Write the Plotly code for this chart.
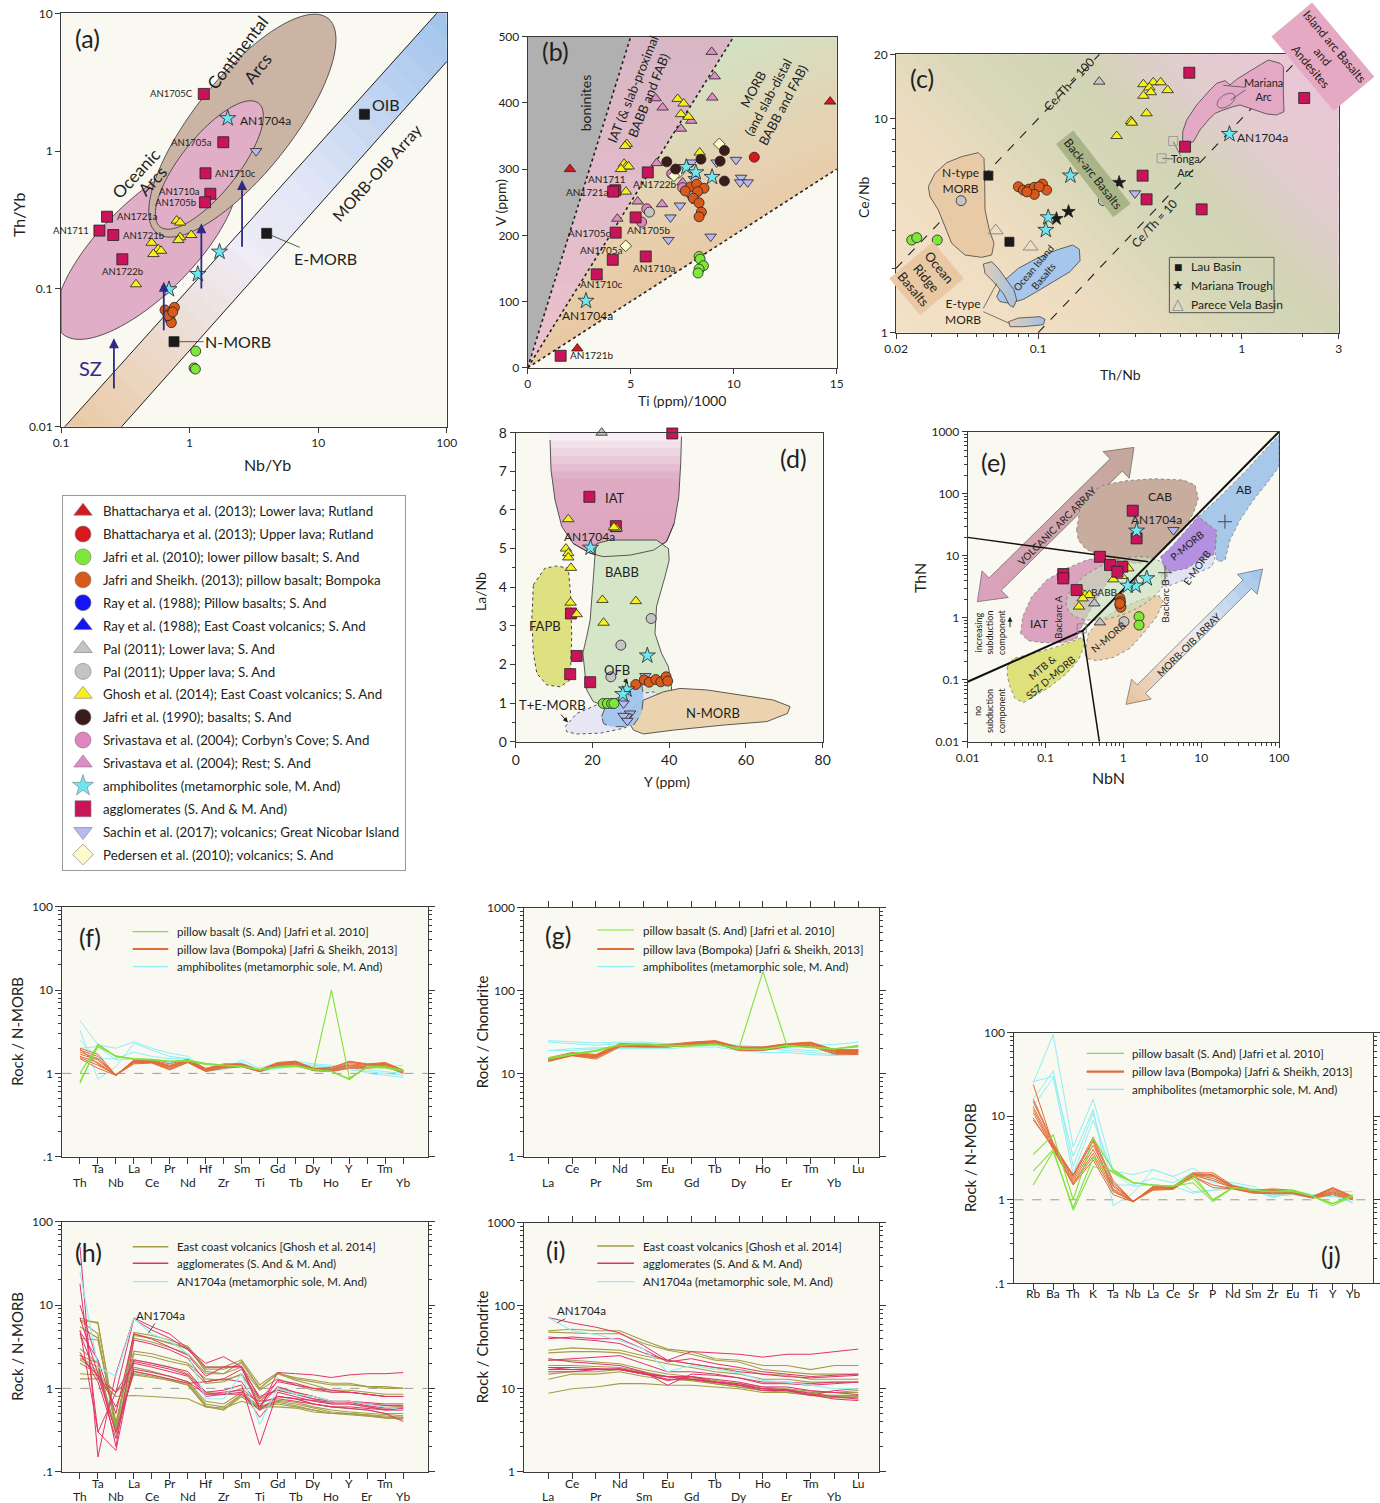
import math
import plotly.graph_objects as go

W, H = 1380, 1503
FONT = "Lato"
INK = "#231f20"
PANEL_BG = "#f9f8f1"

# =============================== DATA ===============================
LEG_KEYS = ["BHL", "BHU", "J10", "JS", "RAYP", "RAYE", "PALL", "PALU", "GHOSH", "J90",
            "SRIC", "SRIR", "AMPH", "AGG", "SACHIN", "PED"]
LEGEND_NAMES = [
    "Bhattacharya et al. (2013); Lower lava; Rutland",
    "Bhattacharya et al. (2013); Upper lava; Rutland",
    "Jafri et al. (2010); lower pillow basalt; S. And",
    "Jafri and Sheikh. (2013); pillow basalt; Bompoka",
    "Ray et al. (1988); Pillow basalts; S. And",
    "Ray et al. (1988); East Coast volcanics; S. And",
    "Pal (2011); Lower lava; S. And",
    "Pal (2011); Upper lava; S. And",
    "Ghosh et al. (2014); East Coast volcanics; S. And",
    "Jafri et al. (1990); basalts; S. And",
    "Srivastava et al. (2004); Corbyn\u2019s Cove; S. And",
    "Srivastava et al. (2004); Rest; S. And",
    "amphibolites (metamorphic sole, M. And)",
    "agglomerates (S. And & M. And)",
    "Sachin et al. (2017); volcanics; Great Nicobar Island",
    "Pedersen et al. (2010); volcanics; S. And",
]

# (a) Th/Yb vs Nb/Yb
A_AGG_NAME = ["AN1705C", "AN1705a", "AN1710c", "AN1710a", "AN1705b", "AN1721a", "AN1711", "AN1721b", "AN1722b"]
A_AGG_NBYB = [1.29, 1.83, 1.33, 1.45, 1.32, 0.228, 0.199, 0.255, 0.30]
A_AGG_THYB = [2.6, 1.16, 0.69, 0.49, 0.425, 0.334, 0.265, 0.246, 0.164]
A_GHOSH_NBYB = [0.794, 0.844, 1.03, 0.844, 0.818, 0.507, 0.571, 0.600, 0.523, 0.383]
A_GHOSH_THYB = [0.313, 0.303, 0.246, 0.237, 0.226, 0.216, 0.194, 0.189, 0.179, 0.108]
A_AMPH_NBYB = [1.98, 1.71, 1.16, 0.692]
A_AMPH_THYB = [1.73, 0.186, 0.128, 0.0993]
A_JS_NBYB = [0.644, 0.762, 0.697, 0.705, 0.722, 0.680, 0.740]
A_JS_THYB = [0.0703, 0.0735, 0.0657, 0.0601, 0.0569, 0.0640, 0.0680]
A_J10_NBYB = [1.116, 1.083, 1.11]
A_J10_THYB = [0.0354, 0.0267, 0.0262]
A_SACHIN_NBYB = [3.29]
A_SACHIN_THYB = [1.0]
A_REF_NAME = ["OIB", "E-MORB", "N-MORB"]
A_REF_NBYB = [22.9, 3.98, 0.757]
A_REF_THYB = [1.85, 0.253, 0.0414]
A_SZ_NBYB = [0.258, 0.63, 1.235, 2.56]
A_SZ_FROM = [0.0185, 0.0489, 0.098, 0.197]
A_SZ_TO = [0.0438, 0.1127, 0.299, 0.617]
A_ARRAY_UPPER = [(0.107, 0.01), (83.6, 10.0)]
A_ARRAY_LOWER = [(0.296, 0.01), (100.0, 4.46)]

# (b) V vs Ti/1000
B_AGG_NAME = ["AN1722b", "AN1711", "AN1721a", "AN1705b", "AN1705c", "AN1705a", "AN1710a", "AN1710c", "AN1721b"]
B_AGG_TI = [5.83, 4.25, 4.15, 5.24, 4.27, 4.13, 5.73, 3.35, 1.60]
B_AGG_V = [295, 268, 266, 227, 204, 163, 168, 141, 18]
B_BHL_TI = [2.05, 2.41, 14.68]
B_BHL_V = [300, 29, 402]
B_BHU_TI = [11.0]
B_BHU_V = [318]
B_J90_TI = [6.75, 7.18, 8.41, 9.34, 9.55, 9.55]
B_J90_V = [311, 300, 315, 312, 328, 282]
B_GHOSH_TI = [7.28, 7.57, 7.44, 7.80, 4.81, 4.73, 4.68, 4.79, 4.90, 4.53, 4.77, 8.35]
B_GHOSH_V = [406, 399, 383, 379, 338, 335, 308, 304, 304, 300, 266, 325]
B_SRIR_TI = [8.93, 9.08, 8.96, 6.21, 6.55, 7.44, 7.94, 6.26, 7.52, 5.34, 4.35, 6.52]
B_SRIR_V = [477, 440, 408, 407, 393, 361, 373, 309, 280, 251, 225, 247]
B_SRIC_TI = [5.78, 5.53, 7.52, 6.99]
B_SRIC_V = [240, 220, 272, 293]
B_PALU_TI = [5.91]
B_PALU_V = [235]
B_AMPH_TI = [7.70, 8.16, 8.95, 2.83]
B_AMPH_V = [303, 295, 288, 101]
B_SACHIN_TI = [7.96, 9.17, 10.11, 10.36, 10.31, 10.68, 7.99, 7.39, 6.93, 6.83, 8.88, 8.07]
B_SACHIN_V = [310, 310, 314, 287, 280, 280, 255, 245, 227, 193, 198, 285]
B_PED_TI = [9.30, 7.35, 7.10, 4.76]
B_PED_V = [338, 295, 290, 184]
B_JS_TI = [7.90, 8.20, 8.56, 8.25, 8.04, 8.32, 8.43, 8.32, 7.65]
B_JS_V = [273, 277, 271, 266, 256, 249, 235, 228, 267]
B_J10_TI = [8.32, 8.37, 8.53, 8.32, 8.27]
B_J10_V = [168, 164, 154, 149, 143]
B_TIV_RATIO = [10, 20, 50]

# (c) Ce/Nb vs Th/Nb
C_AGG_THNB = [0.553, 2.03, 0.527, 0.326, 0.341, 0.636]
C_AGG_CENB = [16.4, 12.5, 7.4, 5.42, 4.2, 3.77]
C_GHOSH_THNB = [0.329, 0.368, 0.40, 0.352, 0.358, 0.329, 0.433, 0.341, 0.286, 0.289, 0.243]
C_GHOSH_CENB = [14.5, 14.8, 14.8, 14.0, 13.3, 12.8, 13.6, 10.6, 9.76, 9.58, 8.3]
C_AMPH_THNB = [0.871, 0.144, 0.112, 0.109]
C_AMPH_CENB = [8.48, 5.42, 3.46, 3.02]
C_MT_THNB = [0.25, 0.141, 0.123]
C_MT_CENB = [5.03, 3.68, 3.41]
C_LAU_THNB = [0.0569, 0.0722]
C_LAU_CENB = [5.42, 2.66]
C_PV_THNB = [0.0618, 0.0918]
C_PV_CENB = [3.0, 2.52]
C_PALL_THNB = [0.1995]
C_PALL_CENB = [14.9]
C_PALU_THNB = [0.0418, 0.209]
C_PALU_CENB = [4.14, 4.14]
C_SACHIN_THNB = [0.299]
C_SACHIN_CENB = [4.48]
C_JS_THNB = [0.0799, 0.0845, 0.0901, 0.0957, 0.105, 0.110, 0.101, 0.0957, 0.0880]
C_JS_CENB = [4.81, 4.64, 4.69, 4.78, 4.95, 4.64, 4.81, 4.43, 4.55]
C_J10_THNB = [0.0239, 0.0253, 0.0319]
C_J10_CENB = [2.71, 2.78, 2.71]
C_TONGA_THNB = [0.461, 0.404]
C_TONGA_CENB = [7.87, 6.53]
C_CETH = [100, 10]

# (d) La/Nb vs Y
D_AGG_Y = [40.8, 19.2, 26.1, 14.4, 15.9, 14.2, 19.4]
D_AGG_LANB = [7.98, 6.34, 5.58, 3.32, 2.22, 1.75, 1.54]
D_GHOSH_Y = [13.7, 13.1, 13.7, 13.7, 14.4, 14.3, 15.9, 22.6, 31.3, 22.9, 26.3, 25.6]
D_GHOSH_LANB = [5.76, 5.0, 4.88, 4.77, 4.50, 3.60, 3.30, 3.67, 3.64, 3.08, 5.52, 5.55]
D_PALL_Y = [22.4]
D_PALL_LANB = [8.0]
D_PALU_Y = [35.3, 27.4, 24.8]
D_PALU_LANB = [3.19, 2.50, 1.68]
D_AMPH_Y = [19.5, 34.3, 28.9, 27.9]
D_AMPH_LANB = [5.02, 2.23, 1.35, 1.23]
D_JS_Y = [31.3, 33.5, 34.8, 36.5, 37.8, 39.2, 39.6]
D_JS_LANB = [1.48, 1.60, 1.54, 1.61, 1.55, 1.68, 1.57]
D_J10_Y = [22.8, 23.9, 25.0, 25.6]
D_J10_LANB = [0.99, 0.99, 0.99, 0.99]
D_SACHIN_Y = [33.8, 28.1, 29.8, 28.9, 28.1, 29.1]
D_SACHIN_LANB = [1.70, 0.99, 0.73, 0.65, 0.67, 0.54]

# (e) ThN vs NbN
E_AGG_NBN = [1.32, 1.48, 0.50, 0.674, 0.97, 0.838, 0.169, 0.169, 0.251]
E_AGG_THN = [53.2, 19.0, 9.6, 7.07, 6.65, 5.52, 5.06, 4.3, 2.79]
E_GHOSH_NBN = [0.292, 0.322, 0.366, 0.30, 0.269, 0.744, 0.953, 1.05, 1.16]
E_GHOSH_THN = [2.53, 2.32, 2.32, 2.05, 1.51, 4.15, 4.70, 6.9, 6.25]
E_PALL_NBN = [0.424, 0.50]
E_PALL_THN = [1.70, 0.84]
E_PALU_NBN = [1.02]
E_PALU_THN = [0.863]
E_AMPH_NBN = [1.48, 2.0, 1.44, 1.14]
E_AMPH_THN = [25.3, 4.31, 3.28, 3.28]
E_JS_NBN = [0.906, 0.92, 0.906, 0.93, 0.90]
E_JS_THN = [2.05, 1.81, 1.60, 1.47, 1.70]
E_J10_NBN = [1.59, 1.59]
E_J10_THN = [1.04, 0.76]
E_SACHIN_NBN = [4.4]
E_SACHIN_THN = [25.9]
E_REF_NBN = [20.2, 3.43]
E_REF_THN = [35.3, 5.32]
E_OPENSQ_NBN = [0.292]
E_OPENSQ_THN = [0.673]

# spider diagrams
CAT_NMORB = ["Th", "Ta", "Nb", "La", "Ce", "Pr", "Nd", "Hf", "Zr", "Sm", "Ti", "Gd", "Tb", "Dy", "Ho", "Y", "Er", "Tm", "Yb"]
CAT_REE = ["La", "Ce", "Pr", "Nd", "Sm", "Eu", "Gd", "Tb", "Dy", "Ho", "Er", "Tm", "Yb", "Lu"]
CAT_EXT = ["Rb", "Ba", "Th", "K", "Ta", "Nb", "La", "Ce", "Sr", "P", "Nd", "Sm", "Zr", "Eu", "Ti", "Y", "Yb"]

F_GREEN = [
    [0.76, 2.25, 1.60, 1.50, 1.46, 1.40, 1.42, 1.30, 1.26, 1.22, 1.10, 1.20, 1.25, 1.10, 1.06, 0.86, 1.20, 1.18, 1.08],
    [1.00, 2.20, 1.58, 1.48, 1.45, 1.38, 1.40, 1.28, 1.24, 1.20, 1.10, 1.18, 1.22, 1.10, 10.0, 0.88, 1.18, 1.16, 1.06],
    [0.80, 2.10, 1.62, 1.50, 1.47, 1.40, 1.44, 1.32, 1.25, 1.21, 1.12, 1.20, 1.24, 1.12, 1.05, 0.84, 1.22, 1.20, 1.10],
]
F_ORANGE = [
    [2.00, 1.70, 0.95, 1.45, 1.45, 1.30, 1.48, 1.15, 1.30, 1.30, 1.10, 1.35, 1.40, 1.15, 1.15, 1.40, 1.30, 1.35, 1.10],
    [1.90, 1.60, 0.95, 1.40, 1.42, 1.25, 1.45, 1.12, 1.28, 1.30, 1.08, 1.32, 1.38, 1.15, 1.12, 1.35, 1.28, 1.32, 1.08],
    [1.80, 1.50, 0.96, 1.40, 1.40, 1.22, 1.42, 1.10, 1.25, 1.28, 1.08, 1.30, 1.35, 1.12, 1.10, 1.30, 1.25, 1.30, 1.06],
    [1.70, 1.45, 0.95, 1.38, 1.38, 1.20, 1.40, 1.10, 1.22, 1.27, 1.07, 1.28, 1.32, 1.12, 1.10, 1.25, 1.22, 1.28, 1.05],
    [1.60, 1.35, 0.95, 1.35, 1.36, 1.15, 1.38, 1.08, 1.20, 1.25, 1.06, 1.26, 1.30, 1.10, 1.08, 1.22, 1.20, 1.25, 1.04],
    [1.55, 1.25, 0.97, 1.33, 1.35, 1.12, 1.36, 1.06, 1.18, 1.22, 1.05, 1.24, 1.28, 1.08, 1.06, 1.18, 1.18, 1.22, 1.02],
    [1.50, 1.15, 0.95, 1.30, 1.33, 1.10, 1.35, 1.05, 1.15, 1.20, 1.05, 1.22, 1.25, 1.08, 1.05, 1.15, 1.15, 1.20, 1.00],
    [1.95, 1.30, 0.94, 1.42, 1.40, 1.18, 1.44, 1.12, 1.25, 1.28, 1.09, 1.30, 1.36, 1.14, 1.18, 1.38, 1.26, 1.30, 1.08],
]
F_CYAN = [
    [4.3, 2.2, 2.0, 2.4, 2.0, 1.75, 1.6, 1.1, 1.1, 1.45, 1.15, 1.35, 1.4, 1.3, 1.25, 1.1, 1.05, 1.0, 0.95],
    [3.3, 0.85, 1.2, 2.3, 1.9, 1.6, 1.5, 1.05, 1.15, 1.35, 1.1, 1.3, 1.35, 1.2, 1.2, 1.2, 1.0, 0.95, 0.9],
    [2.5, 1.5, 1.5, 1.8, 1.6, 1.5, 1.5, 1.15, 1.2, 1.25, 1.1, 1.2, 1.3, 1.25, 1.2, 1.25, 1.2, 1.2, 1.25],
    [2.0, 2.1, 1.45, 1.5, 1.45, 1.35, 1.35, 1.1, 1.15, 1.2, 1.05, 1.15, 1.2, 1.15, 1.15, 1.15, 1.1, 1.05, 1.0],
]
G_GREEN = [
    [15.5, 17.5, 19.0, 22.5, 23.0, 22.0, 22.0, 23.0, 20.0, 19.5, 22.0, 21.0, 20.0, 21.5],
    [15.0, 17.0, 18.5, 22.0, 22.5, 21.5, 21.5, 22.5, 20.5, 170.0, 22.0, 20.5, 20.0, 21.0],
    [15.2, 17.2, 19.2, 22.2, 22.8, 22.0, 21.8, 22.8, 19.8, 19.8, 21.5, 20.8, 19.8, 22.0],
]
G_ORANGE = [
    [15.5, 18.0, 17.0, 23.0, 22.5, 22.5, 24.0, 25.0, 21.0, 21.0, 23.0, 24.0, 19.5, 19.5],
    [15.0, 17.5, 16.5, 22.5, 22.0, 22.0, 23.5, 24.5, 20.5, 20.5, 22.5, 23.5, 19.0, 19.0],
    [14.8, 17.0, 16.0, 22.0, 21.5, 21.5, 23.0, 24.0, 20.0, 20.0, 22.0, 23.0, 18.5, 18.5],
    [14.5, 16.8, 15.8, 21.8, 21.2, 21.2, 22.5, 23.5, 19.8, 19.5, 21.5, 22.5, 18.0, 18.0],
    [14.2, 16.5, 15.5, 21.5, 21.0, 21.0, 22.2, 23.2, 19.5, 19.2, 21.2, 22.0, 17.5, 17.5],
    [14.0, 16.5, 15.0, 21.0, 21.0, 21.0, 22.0, 23.0, 19.0, 19.0, 21.0, 21.5, 17.2, 17.0],
    [15.2, 17.8, 16.8, 22.8, 22.2, 22.0, 23.8, 24.8, 20.8, 20.8, 22.8, 23.8, 19.2, 19.3],
    [14.6, 17.2, 16.2, 22.2, 21.8, 21.8, 23.2, 24.2, 20.2, 20.2, 22.2, 23.2, 18.8, 18.8],
]
G_CYAN = [
    [25.0, 24.0, 23.5, 24.0, 24.0, 23.0, 23.0, 22.5, 21.0, 20.0, 19.0, 18.0, 17.0, 17.5],
    [24.0, 23.0, 22.0, 23.0, 23.0, 22.5, 23.0, 23.0, 22.0, 21.0, 21.0, 22.0, 22.5, 24.0],
    [19.0, 20.0, 20.5, 21.0, 21.0, 21.0, 22.0, 22.0, 20.0, 19.5, 20.0, 19.0, 18.5, 18.5],
    [19.0, 19.0, 20.0, 20.0, 20.0, 20.0, 21.0, 21.0, 19.0, 18.0, 18.0, 17.0, 16.5, 17.0],
]
H_OLIVE = [
    [7.0, 6.0, 0.35, 4.7, 4.3, 3.8, 3.2, 1.8, 1.8, 2.2, 1.1, 1.55, 1.3, 1.2, 1.1, 1.1, 1.05, 1.05, 1.0],
    [6.5, 4.5, 0.30, 4.5, 4.0, 3.5, 3.0, 1.7, 1.7, 2.0, 1.0, 1.5, 1.25, 1.1, 0.95, 0.95, 0.9, 0.85, 0.85],
    [5.5, 4.0, 0.35, 4.0, 3.6, 3.1, 2.6, 1.5, 1.5, 1.8, 0.95, 1.3, 1.1, 0.95, 0.9, 0.9, 0.85, 0.8, 0.8],
    [4.0, 3.8, 0.40, 2.8, 2.6, 2.3, 2.0, 1.3, 1.25, 1.45, 0.7, 1.0, 0.9, 0.8, 0.7, 0.7, 0.65, 0.62, 0.6],
    [3.0, 2.0, 0.30, 2.6, 2.4, 2.1, 1.9, 1.15, 1.2, 1.5, 0.75, 0.95, 0.85, 0.75, 0.65, 0.65, 0.6, 0.56, 0.55],
    [2.5, 2.0, 0.28, 2.2, 2.0, 1.8, 1.5, 0.9, 0.85, 1.0, 0.65, 0.8, 0.75, 0.65, 0.6, 0.58, 0.55, 0.5, 0.5],
    [2.3, 1.8, 0.30, 1.8, 1.6, 1.4, 1.2, 0.7, 0.65, 0.9, 0.6, 0.72, 0.68, 0.6, 0.55, 0.52, 0.5, 0.48, 0.47],
    [2.2, 1.6, 0.30, 1.6, 1.45, 1.3, 1.15, 0.65, 0.6, 0.85, 0.58, 0.7, 0.65, 0.58, 0.52, 0.5, 0.48, 0.45, 0.45],
    [2.0, 1.5, 0.32, 1.5, 1.4, 1.25, 1.1, 0.6, 0.55, 0.8, 0.55, 0.68, 0.62, 0.55, 0.5, 0.5, 0.47, 0.44, 0.43],
    [1.5, 1.45, 0.9, 1.45, 1.35, 1.25, 1.1, 0.62, 0.55, 0.85, 0.6, 0.65, 0.6, 0.55, 0.5, 0.5, 0.48, 0.47, 0.45],
    [1.3, 1.3, 0.8, 0.82, 0.8, 0.78, 0.75, 0.6, 0.58, 0.7, 0.6, 0.6, 0.58, 0.52, 0.5, 0.48, 0.46, 0.44, 0.43],
    [6.5, 6.2, 0.35, 4.3, 4.0, 3.5, 3.1, 1.6, 1.5, 2.1, 1.0, 1.5, 1.35, 1.25, 1.15, 1.15, 1.05, 1.0, 1.0],
]
H_PINK = [
    [50.0, 0.15, 1.5, 7.0, 5.5, 4.5, 3.0, 2.0, 2.4, 1.8, 0.55, 1.55, 1.5, 1.45, 1.35, 1.45, 1.5, 1.5, 1.55],
    [18.0, 0.3, 0.9, 6.8, 5.0, 4.0, 2.9, 1.8, 1.8, 1.8, 0.6, 1.25, 1.15, 1.0, 0.95, 0.9, 0.85, 0.8, 0.8],
    [10.0, 2.0, 0.2, 3.8, 3.4, 2.9, 2.3, 1.2, 1.3, 1.7, 0.8, 0.95, 0.85, 0.75, 0.7, 0.7, 0.65, 0.62, 0.62],
    [7.0, 1.5, 0.6, 2.2, 2.0, 1.8, 1.6, 0.9, 0.95, 1.1, 0.21, 0.9, 0.8, 0.7, 0.65, 0.65, 0.6, 0.55, 0.55],
    [5.0, 0.3, 0.18, 2.1, 1.9, 1.7, 1.45, 0.85, 0.9, 0.95, 0.45, 0.8, 0.75, 0.65, 0.6, 0.58, 0.55, 0.5, 0.4],
    [4.5, 1.3, 0.9, 2.0, 1.8, 1.6, 1.4, 0.8, 0.85, 0.9, 0.7, 0.75, 0.7, 0.65, 0.6, 0.6, 0.58, 0.55, 0.58],
    [2.7, 1.2, 0.25, 1.7, 1.55, 1.4, 1.2, 0.85, 0.85, 0.85, 0.55, 0.8, 0.75, 0.72, 0.68, 0.7, 0.68, 0.65, 0.65],
    [2.5, 1.4, 0.3, 1.6, 1.45, 1.3, 1.15, 1.2, 1.3, 1.2, 0.6, 1.05, 0.9, 0.8, 0.7, 0.68, 0.62, 0.58, 0.58],
    [4.8, 2.2, 0.5, 4.5, 3.9, 3.1, 2.5, 1.4, 1.8, 1.85, 0.75, 1.2, 1.1, 1.0, 0.9, 0.9, 0.85, 0.8, 0.8],
]
H_CYAN = [[25.0, 1.8, 1.4, 6.9, 4.5, 3.7, 2.6, 0.75, 0.75, 1.5, 0.37, 1.0, 0.85, 0.8, 0.7, 0.7, 0.65, 0.6, 0.55]]
I_OLIVE = [
    [50, 52, 50, 50, 38, 30, 28, 23, 22, 19, 19, 17, 19, 19],
    [48, 47, 46, 46, 35, 29, 26, 22, 21, 17, 16, 15, 15, 15],
    [29, 31, 30, 29, 25, 22, 20, 18, 17, 15, 14.5, 13, 13, 13],
    [27, 28, 28, 27, 23, 20, 18, 16, 15, 13, 13, 12, 12, 12],
    [19, 19, 18.5, 18, 16, 14, 13.5, 12, 11, 10, 9.8, 9, 9, 9],
    [17, 17, 17, 17, 15, 14, 13, 11.5, 10.5, 9.5, 9.3, 8.5, 8.3, 8.3],
    [15, 16, 16, 17, 15, 14, 13, 12, 11, 10, 9.5, 8.5, 8, 8],
    [13, 15, 15, 16, 14, 13, 12.5, 11.5, 10.5, 9.5, 9, 8.3, 7.8, 7.8],
    [8.8, 10, 10.5, 11.5, 11.5, 11, 11, 10.5, 10, 9, 9, 8.5, 8, 8],
    [22, 22, 21, 20, 17, 15, 14, 12.5, 11.5, 10.5, 10, 9.3, 9, 9.5],
]
I_PINK = [
    [72, 62, 55, 47, 33, 22, 28, 27, 26, 24, 26, 26, 28, 30],
    [42, 40, 38, 35, 27, 22, 20, 18, 16, 15, 14, 13.5, 14, 14.5],
    [40, 42, 40, 40, 30, 21, 23, 20, 18, 16, 15, 14, 14.5, 15],
    [23, 21, 20, 19, 16, 11, 15, 14.5, 13.5, 12, 12, 11.5, 12, 12],
    [22, 23, 24, 25, 20, 16, 16, 15, 13.5, 11.5, 11.5, 11, 11.5, 12],
    [18, 17, 17, 17, 15, 14, 13, 12, 11, 9.5, 9.5, 8.5, 7.5, 7.2],
    [18, 18, 17.5, 17, 15, 13, 13, 12, 11, 10, 9.7, 8.8, 8, 7.5],
    [17, 17, 17, 17, 15.5, 14, 14, 13, 12, 10.5, 10.5, 9.5, 9, 8.5],
    [16, 16, 17, 17.5, 15.5, 12.5, 14, 12, 11.5, 10, 9.7, 8.3, 9.5, 10],
]
I_CYAN = [[72, 50, 45, 38, 30, 16, 19, 17, 15.5, 12.5, 12, 11, 10, 10]]
J_GREEN = [
    [3.5, 6.0, 1.0, 5.5, 2.3, 1.6, 1.5, 1.45, 1.8, 1.0, 1.4, 1.3, 1.25, 1.3, 1.1, 0.9, 1.1],
    [2.2, 4.0, 0.75, 2.5, 2.2, 1.6, 1.5, 1.45, 1.6, 0.95, 1.4, 1.3, 1.25, 1.25, 1.1, 0.85, 1.1],
    [1.5, 3.8, 0.8, 3.2, 2.1, 1.6, 1.5, 1.45, 2.0, 1.0, 1.4, 1.3, 1.25, 1.3, 1.1, 0.9, 1.15],
]
J_ORANGE = [
    [24, 4.5, 2.0, 5.6, 1.70, 0.95, 1.45, 1.45, 2.10, 2.10, 1.48, 1.30, 1.35, 1.30, 1.10, 1.40, 1.10],
    [16, 4.8, 1.9, 5.2, 1.60, 0.95, 1.40, 1.42, 2.05, 2.00, 1.45, 1.30, 1.30, 1.28, 1.08, 1.35, 1.08],
    [15, 4.6, 1.8, 4.5, 1.50, 0.96, 1.40, 1.40, 2.00, 1.90, 1.42, 1.28, 1.28, 1.25, 1.08, 1.30, 1.06],
    [13, 4.4, 1.7, 4.0, 1.45, 0.95, 1.38, 1.38, 2.00, 1.80, 1.40, 1.27, 1.25, 1.22, 1.07, 1.25, 1.05],
    [12, 4.2, 1.6, 3.6, 1.35, 0.95, 1.35, 1.36, 1.95, 1.70, 1.38, 1.25, 1.22, 1.20, 1.06, 1.22, 1.04],
    [11, 4.0, 1.55, 3.3, 1.25, 0.97, 1.33, 1.35, 1.90, 1.50, 1.36, 1.22, 1.20, 1.20, 1.05, 1.18, 1.02],
    [9.5, 4.1, 1.5, 3.0, 1.15, 0.95, 1.30, 1.33, 1.90, 1.40, 1.35, 1.20, 1.18, 1.18, 1.05, 1.15, 1.00],
    [9.0, 4.3, 1.95, 5.0, 1.30, 0.94, 1.42, 1.40, 2.05, 1.95, 1.44, 1.28, 1.32, 1.26, 1.09, 1.38, 1.08],
]
J_CYAN = [
    [25, 95, 4.3, 16, 2.2, 2.0, 2.3, 1.9, 2.4, 1.7, 1.6, 1.45, 1.1, 1.3, 1.15, 1.1, 0.95],
    [26, 30, 3.3, 12, 0.85, 1.2, 2.3, 1.9, 1.25, 1.3, 1.5, 1.35, 1.05, 1.25, 1.1, 1.2, 0.9],
    [16, 35, 2.5, 11, 1.5, 1.5, 1.8, 1.6, 2.1, 1.6, 1.5, 1.3, 1.15, 1.2, 1.1, 1.25, 1.25],
    [13, 29, 2.0, 9, 2.1, 1.45, 1.5, 1.45, 1.2, 1.3, 1.35, 1.25, 1.1, 1.15, 1.05, 1.1, 1.0],
]
LEG_FJ = ["pillow basalt (S. And) [Jafri et al. 2010]", "pillow lava (Bompoka) [Jafri & Sheikh, 2013]",
          "amphibolites (metamorphic sole, M. And)"]
LEG_HI = ["East coast volcanics [Ghosh et al. 2014]", "agglomerates (S. And & M. And)",
          "AN1704a (metamorphic sole, M. And)"]

# =============================== STYLE ===============================
SYM = {
    "BHL": ("triangle-up", "#d7191f"), "BHU": ("circle", "#d7191f"), "J10": ("circle", "#7ee83a"),
    "JS": ("circle", "#d9591b"), "RAYP": ("circle", "#1414f5"), "RAYE": ("triangle-up", "#1414f5"),
    "PALL": ("triangle-up", "#c4c4c4"), "PALU": ("circle", "#c4c4c4"), "GHOSH": ("triangle-up", "#f6f01c"),
    "J90": ("circle", "#3b1c1c"), "SRIC": ("circle", "#e184c0"), "SRIR": ("triangle-up", "#de8dc6"),
    "AMPH": ("star", "#6fe6f0"), "AGG": ("square", "#c9145a"), "SACHIN": ("triangle-down", "#b9b9f2"),
    "PED": ("diamond", "#fdfbcb"),
}
MSIZE = {"triangle-up": 10, "circle": 10, "star": 12, "square": 11, "triangle-down": 10, "diamond": 9}
C_GREEN, C_ORANGE, C_CYAN = "#80e03c", "#e06c3a", "#8eeef6"
C_OLIVE, C_PINK = "#a39d48", "#e0336c"

BOX = {  # plot frames in page pixels (left, top, right, bottom)
    "a": (61.0, 13.3, 446.7, 426.7), "b": (527.7, 36.7, 836.7, 367.7), "c": (896.0, 54.3, 1338.7, 332.7),
    "d": (515.7, 432.7, 822.7, 741.7), "e": (967.7, 431.7, 1279.0, 741.7), "f": (62.3, 906.7, 427.7, 1156.7),
    "g": (524.3, 907.7, 879.3, 1156.7), "h": (62.3, 1221.7, 427.7, 1471.7), "i": (524.3, 1222.7, 879.3, 1471.7),
    "j": (1014.3, 1032.7, 1372.7, 1283.3),
}
AXID = {"a": ("x", "y"), "b": ("x2", "y2"), "c": ("x3", "y3"), "d": ("x4", "y4"), "e": ("x5", "y5"),
        "f": ("x6", "y6"), "g": ("x7", "y7"), "h": ("x8", "y8"), "i": ("x9", "y9"), "j": ("x10", "y10")}
ZOFF = {"a": (0, 0), "b": (490, 20), "c": (850, 10), "d": (490, 420), "e": (900, 420)}
# template outlines are digitised at 3x on these frames (left, top, right, bottom)
FR = {"a": (183, 40, 1340, 1280), "b": (113, 50, 1040, 1043), "c": (138, 133, 1466, 968),
      "d": (77, 38, 998, 965), "e": (203, 35, 1137, 965)}

fig = go.Figure()
shapes, anns = [], []


def lk(axid):
    return axid[0] + "axis" + axid[1:]


def dom_of(p):
    L, T, R, B = BOX[p]
    return [L / W, R / W], [1 - B / H, 1 - T / H]


def fr2dom(p, pts):
    L, T, R, B = FR[p]
    return [((x - L) / (R - L), (B - y) / (B - T)) for x, y in pts]


def clip_half(poly, a, b, c):
    out = []
    n = len(poly)
    for i in range(n):
        P, Q = poly[i], poly[(i + 1) % n]
        fp = a * P[0] + b * P[1] - c
        fq = a * Q[0] + b * Q[1] - c
        if fp >= 0:
            out.append(P)
        if (fp >= 0) != (fq >= 0):
            t = fp / (fp - fq)
            out.append((P[0] + t * (Q[0] - P[0]), P[1] + t * (Q[1] - P[1])))
    return out


def clip_unit(poly):
    for a, b, c in [(1, 0, 0), (-1, 0, -1), (0, 1, 0), (0, -1, -1)]:
        poly = clip_half(poly, a, b, c)
        if not poly:
            break
    return poly


def path_str(poly, closed=True):
    s = "M" + "L".join("%.4f,%.4f" % (u, v) for u, v in poly)
    return s + ("Z" if closed else "")


def dshape(p, poly, fill=None, lc=None, lw=1.0, dash="solid", closed=True, clip=True, layer="below"):
    if clip and closed:
        poly = clip_unit(poly)
    if len(poly) < 2:
        return
    xid, yid = AXID[p]
    shapes.append(dict(type="path", xref=xid + " domain", yref=yid + " domain", path=path_str(poly, closed),
                       fillcolor=fill if (fill and closed) else "rgba(0,0,0,0)",
                       line=dict(color=lc if lc else "rgba(0,0,0,0)", width=lw if lc else 0, dash=dash),
                       layer=layer))


def lerp_col(stops, t):
    t = min(max(t, 0.0), 1.0)
    for (t0, c0), (t1, c1) in zip(stops, stops[1:]):
        if t <= t1:
            f = 0 if t1 == t0 else (t - t0) / (t1 - t0)
            return "rgb(%d,%d,%d)" % tuple(round(c0[k] + f * (c1[k] - c0[k])) for k in range(3))
    return "rgb(%d,%d,%d)" % stops[-1][1]


def grad_fill(p, poly, dir_px, stops, n=24):
    poly = clip_unit(poly)
    L, T, R, B = BOX[p]
    a, b = dir_px[0] * (R - L), dir_px[1] * (B - T)
    s = [a * u + b * v for u, v in poly]
    s0, s1 = min(s), max(s)
    st = (s1 - s0) / n
    for i in range(n):
        lo = s0 + i * st - 1e-6
        hi = s0 + (i + 1) * st + (0.6 * st if i < n - 1 else 1.0)
        q = clip_half(poly, a, b, lo)
        if q:
            q = clip_half(q, -a, -b, -hi)
        if len(q) >= 3:
            dshape(p, q, fill=lerp_col(stops, (i + 0.5) / n), clip=False)


def ellipse(cx, cy, a, b, ang, n=90):
    t = math.radians(ang)
    ux, uy = math.cos(t), -math.sin(t)
    nx, ny = math.sin(t), math.cos(t)
    out = []
    for k in range(n):
        ph = 2 * math.pi * k / n
        out.append((cx + a * math.cos(ph) * ux + b * math.sin(ph) * nx,
                    cy + a * math.cos(ph) * uy + b * math.sin(ph) * ny))
    return out


def fat_arrow(p0, p1, w, hw, hl):
    dx, dy = p1[0] - p0[0], p1[1] - p0[1]
    L = math.hypot(dx, dy)
    ux, uy = dx / L, dy / L
    nx, ny = -uy, ux

    def P(base, along, side):
        return (base[0] + ux * along + nx * side, base[1] + uy * along + ny * side)
    return [p0, P(p0, hl, hw), P(p0, hl, w), P(p1, -hl, w), P(p1, -hl, hw), p1,
            P(p1, -hl, -hw), P(p1, -hl, -w), P(p0, hl, -w), P(p0, hl, -hw)]


def ptext(x, y, text, size=12, angle=0, color=INK, xanchor="center", yanchor="middle", bg=None, align="center"):
    d = dict(xref="paper", yref="paper", x=x / W, y=1 - y / H, text=text, showarrow=False, textangle=angle,
             font=dict(size=size, color=color, family=FONT), xanchor=xanchor, yanchor=yanchor, align=align)
    if bg:
        d.update(bgcolor=bg, borderpad=3)
    anns.append(d)


def ztext(p, zx, zy, text, **kw):
    ox, oy = ZOFF[p]
    ptext(zx / 3 + ox, zy / 3 + oy, text, **kw)


def dlabel(p, x, y, text, logx=False, logy=False, xanchor="center", yanchor="middle", xshift=0, yshift=0, size=9.5):
    xid, yid = AXID[p]
    anns.append(dict(xref=xid, yref=yid, x=math.log10(x) if logx else x, y=math.log10(y) if logy else y,
                     text=text, showarrow=False, xanchor=xanchor, yanchor=yanchor, xshift=xshift, yshift=yshift,
                     font=dict(size=size, color=INK, family=FONT)))


def pts(p, key, xs, ys, size=None):
    xid, yid = AXID[p]
    sym, col = SYM[key]
    fig.add_trace(go.Scatter(x=xs, y=ys, mode="markers", xaxis=xid, yaxis=yid, showlegend=False,
                             hoverinfo="skip", cliponaxis=False,
                             marker=dict(symbol=sym, color=col, size=size or MSIZE[sym],
                                         line=dict(color="#222", width=0.8))))


def raw_pts(p, xs, ys, symbol, color, size, lc="#222", lw=0.8):
    xid, yid = AXID[p]
    fig.add_trace(go.Scatter(x=xs, y=ys, mode="markers", xaxis=xid, yaxis=yid, showlegend=False,
                             hoverinfo="skip", cliponaxis=False,
                             marker=dict(symbol=symbol, color=color, size=size, line=dict(color=lc, width=lw))))


UNIT = [(0, 0), (1, 0), (1, 1), (0, 1)]
layout_axes = {}


def base_axis(**kw):
    d = dict(showline=True, linecolor="#3a3a3a", linewidth=1, mirror=True, ticks="outside", ticklen=5,
             tickwidth=1, tickcolor="#3a3a3a", showgrid=False, zeroline=False, fixedrange=True, automargin=False,
             tickfont=dict(size=12, color=INK, family=FONT))
    d.update(kw)
    return d


def set_axes(p, xkw, ykw):
    xid, yid = AXID[p]
    xd, yd = dom_of(p)
    layout_axes[lk(xid)] = base_axis(domain=xd, anchor=yid, **xkw)
    layout_axes[lk(yid)] = base_axis(domain=yd, anchor=xid, **ykw)


def minor_log(lo, hi):
    vals = []
    for e in range(lo, hi):
        for m in range(2, 10):
            vals.append(m * 10 ** e)
    return vals


# ============================ PANEL (a) ============================
set_axes("a", dict(type="log", range=[-1, 2], tickvals=[0.1, 1, 10, 100], ticktext=["0.1", "1", "10", "100"]),
         dict(type="log", range=[-2, 1], tickvals=[0.01, 0.1, 1, 10], ticktext=["0.01", "0.1", "1", "10"]))
dshape("a", UNIT, fill=PANEL_BG)


def a_dom(xy):
    return ((math.log10(xy[0]) + 1) / 3, (math.log10(xy[1]) + 2) / 3)


band = [a_dom(A_ARRAY_LOWER[0]), a_dom(A_ARRAY_UPPER[0]), a_dom(A_ARRAY_UPPER[1]), (1.0, 1.0),
        a_dom(A_ARRAY_LOWER[1])]
grad_fill("a", band, (1, 1), [(0, (233, 201, 162)), (0.45, (238, 236, 246)), (0.6, (226, 230, 246)),
                              (1, (160, 196, 236))], n=30)
dshape("a", [a_dom(q) for q in A_ARRAY_UPPER], lc="#222", lw=1, closed=False)
dshape("a", [a_dom(q) for q in A_ARRAY_LOWER], lc="#222", lw=1, closed=False)
dshape("a", fr2dom("a", ellipse(440, 745, 360, 140, 45)), fill="rgb(224,174,198)", lc="#333", lw=0.8)
dshape("a", fr2dom("a", ellipse(727, 377, 412, 145, 51.4)), fill="rgb(204,180,164)", lc="#333", lw=0.8)
dshape("a", fr2dom("a", ellipse(628, 495, 237, 85, 51.4)), fill="rgb(224,174,198)", lc="#333", lw=0.8)

pts("a", "JS", A_JS_NBYB, A_JS_THYB)
pts("a", "J10", A_J10_NBYB, A_J10_THYB)
pts("a", "GHOSH", A_GHOSH_NBYB, A_GHOSH_THYB)
pts("a", "SACHIN", A_SACHIN_NBYB, A_SACHIN_THYB)
pts("a", "AMPH", A_AMPH_NBYB, A_AMPH_THYB)
pts("a", "AGG", A_AGG_NBYB, A_AGG_THYB)
raw_pts("a", A_REF_NBYB, A_REF_THYB, "square", "#1a1a1a", 10)

A_LBL = {"AN1705C": ("right", -9, 0), "AN1705a": ("right", -9, 0), "AN1710c": ("left", 8, 0),
         "AN1710a": ("right", -8, 2), "AN1705b": ("right", -7, 0), "AN1721a": ("left", 8, 0),
         "AN1711": ("right", -8, 0), "AN1721b": ("left", 8, 0), "AN1722b": ("center", 0, -12)}
for nm, x, y in zip(A_AGG_NAME, A_AGG_NBYB, A_AGG_THYB):
    anc, xs, ys = A_LBL[nm]
    dlabel("a", x, y, nm, logx=True, logy=True, xanchor=anc, xshift=xs, yshift=ys, size=9.5)
dlabel("a", A_AMPH_NBYB[0], A_AMPH_THYB[0], "AN1704a", logx=True, logy=True, xanchor="left", xshift=10, yshift=-2,
       size=12)
for x0, y0, y1 in zip(A_SZ_NBYB, A_SZ_FROM, A_SZ_TO):
    anns.append(dict(xref="x", yref="y", axref="x", ayref="y", x=math.log10(x0), y=math.log10(y1),
                     ax=math.log10(x0), ay=math.log10(y0), text="", showarrow=True, arrowhead=2,
                     arrowsize=1.1, arrowwidth=1.8, arrowcolor="#2e2a85"))
ref_off = {"OIB": None, "E-MORB": (59, 25), "N-MORB": (64, 0)}
for nm, x, y in zip(A_REF_NAME, A_REF_NBYB, A_REF_THYB):
    if ref_off[nm] is None:
        dlabel("a", x, y, nm, logx=True, logy=True, xshift=22, yshift=10, size=16)
    else:
        ax_, ay_ = ref_off[nm]
        anns.append(dict(xref="x", yref="y", x=math.log10(x), y=math.log10(y), ax=ax_, ay=ay_, text=nm,
                         showarrow=True, arrowhead=0, arrowwidth=0.8, arrowcolor="#333", standoff=5,
                         font=dict(size=16, color=INK, family=FONT)))
ztext("a", 262, 115, "(a)", size=25)
ztext("a", 712, 158, "Continental", size=17, angle=-52)
ztext("a", 772, 205, "Arcs", size=17, angle=-52)
ztext("a", 408, 522, "Oceanic", size=17, angle=-47)
ztext("a", 458, 542, "Arcs", size=17, angle=-47)
ztext("a", 1130, 518, "MORB-OIB Array", size=16, angle=-48)
ztext("a", 272, 1105, "SZ", size=20, color="#2e2a85")
ptext(267, 465, "Nb/Yb", size=16)
ptext(18, 215, "Th/Yb", size=16, angle=-90)

# ============================ PANEL (b) ============================
set_axes("b", dict(range=[0, 15], tickvals=[0, 5, 10, 15]), dict(range=[0, 500], dtick=100))


def tiv_end(r):
    k = 1000.0 / r
    x = 500.0 / k
    return (x, 500.0) if x <= 15 else (15.0, 15 * k)


ends = [(e[0] / 15, e[1] / 500) for e in (tiv_end(r) for r in B_TIV_RATIO)]
dshape("b", UNIT, fill=PANEL_BG)
dshape("b", [(0, 0), (0, 1), ends[0]], fill="rgb(176,176,176)")
grad_fill("b", [(0, 0), ends[0], ends[1]], (0, 1), [(0, (236, 194, 206)), (1, (216, 182, 196))], n=12)
grad_fill("b", [(0, 0), ends[1], (1, 1), ends[2]], (-0.45, 1),
          [(0, (234, 200, 162)), (0.45, (230, 210, 178)), (1, (210, 226, 196))], n=24)
for e in ends:
    dshape("b", [(0, 0), e], lc="#222", lw=1.6, dash="dot", closed=False)

pts("b", "BHL", B_BHL_TI, B_BHL_V)
pts("b", "BHU", B_BHU_TI, B_BHU_V)
pts("b", "SRIR", B_SRIR_TI, B_SRIR_V)
pts("b", "GHOSH", B_GHOSH_TI, B_GHOSH_V)
pts("b", "SRIC", B_SRIC_TI, B_SRIC_V)
pts("b", "PALU", B_PALU_TI, B_PALU_V)
pts("b", "SACHIN", B_SACHIN_TI, B_SACHIN_V)
pts("b", "PED", B_PED_TI, B_PED_V)
pts("b", "J90", B_J90_TI, B_J90_V)
pts("b", "JS", B_JS_TI, B_JS_V)
pts("b", "J10", B_J10_TI, B_J10_V)
pts("b", "AMPH", B_AMPH_TI, B_AMPH_V)
pts("b", "AGG", B_AGG_TI, B_AGG_V)
B_LBL = {"AN1722b": (7, 12), "AN1711": (-8, -11), "AN1721a": (-26, 0), "AN1705b": (13, 13), "AN1705c": (-26, 0),
         "AN1705a": (-11, -10), "AN1710a": (9, 12), "AN1710c": (5, 10), "AN1721b": (31, -1)}
for nm, x, y in zip(B_AGG_NAME, B_AGG_TI, B_AGG_V):
    dx, dy = B_LBL[nm]
    dlabel("b", x, y, nm, xshift=dx, yshift=-dy, size=10)
dlabel("b", B_AMPH_TI[3], B_AMPH_V[3], "AN1704a", xshift=1, yshift=-15, size=12)
ztext("b", 195, 92, "(b)", size=25)
ztext("b", 285, 250, "boninites", size=14, angle=-90)
ztext("b", 452, 218, "IAT (& slab-proximal<br>BABB and FAB)", size=13, angle=-68)
ztext("b", 835, 232, "MORB<br>(and slab-distal<br>BABB and FAB)", size=13, angle=-62)
ptext(682, 401, "Ti (ppm)/1000", size=14)
ptext(500, 203, "V (ppm)", size=14, angle=-90)

# ============================ PANEL (c) ============================
C_LX = [math.log10(0.02), math.log10(3)]
C_LY = [0, math.log10(20)]
set_axes("c", dict(type="log", range=C_LX, tickvals=[0.02, 0.1, 1, 3], ticktext=["0.02", "0.1", "1", "3"],
                   minor=dict(ticks="outside", ticklen=3, tickcolor="#3a3a3a",
                              tickvals=[0.03, 0.04, 0.05, 0.06, 0.07, 0.08, 0.09, 0.2, 0.3, 0.4, 0.5, 0.6,
                                        0.7, 0.8, 0.9, 2])),
         dict(type="log", range=C_LY, tickvals=[1, 10, 20], ticktext=["1", "10", "20"],
              minor=dict(ticks="outside", ticklen=3, tickcolor="#3a3a3a", tickvals=[2, 3, 4, 5, 6, 7, 8, 9])))
grad_fill("c", UNIT, (1, 1), [(0, (243, 225, 199)), (0.3, (238, 221, 193)), (0.5, (213, 215, 184)),
                              (0.62, (210, 212, 182)), (0.78, (227, 204, 208)), (1, (234, 197, 216))], n=32)


def c_dom(x, y):
    return ((math.log10(x) - C_LX[0]) / (C_LX[1] - C_LX[0]), (math.log10(y) - C_LY[0]) / (C_LY[1] - C_LY[0]))


for k in C_CETH:
    x0 = max(0.02, 1.0 / k)
    x1 = min(3.0, 20.0 / k)
    dshape("c", [c_dom(x0, k * x0), c_dom(x1, k * x1)], lc="#222", lw=1.1, dash="dash", closed=False)
dshape("c", fr2dom("c", [(235, 530), (255, 490), (290, 458), (335, 440), (385, 428), (402, 445), (404, 520),
                         (405, 600), (418, 660), (432, 700), (425, 735), (395, 742), (345, 735), (305, 700),
                         (285, 650), (265, 600), (240, 560)]), fill="rgb(232,203,166)", lc="#444", lw=0.8)
dshape("c", fr2dom("c", [(440, 860), (462, 812), (505, 775), (560, 745), (620, 720), (668, 705), (688, 718),
                         (690, 752), (660, 785), (610, 815), (560, 845), (520, 868), (480, 880), (450, 875)]),
       fill="rgb(166,198,236)", lc="#444", lw=0.8)
for poly in ([(400, 762), (425, 755), (445, 775), (470, 810), (492, 840), (500, 870), (490, 892), (478, 885),
              (460, 850), (430, 815), (405, 790)],
             [(476, 935), (505, 924), (570, 920), (585, 928), (580, 944), (520, 950), (480, 950)]):
    grad_fill("c", fr2dom("c", poly), (1, 0), [(0, (226, 206, 182)), (1, (164, 192, 226))], n=8)
    dshape("c", fr2dom("c", poly), lc="#444", lw=0.8)
dshape("c", fr2dom("c", [(998, 395), (998, 365), (1010, 330), (1040, 285), (1080, 240), (1100, 220), (1125, 212),
                         (1140, 225), (1160, 208), (1205, 180), (1255, 150), (1290, 160), (1300, 170),
                         (1300, 250), (1302, 305), (1280, 315), (1250, 312), (1200, 295), (1170, 285),
                         (1150, 290), (1120, 300), (1095, 310), (1075, 330), (1050, 360), (1030, 395),
                         (1010, 402)]), fill="rgb(226,168,196)", lc="#444", lw=0.8)
dshape("c", fr2dom("c", ellipse(1128, 272, 30, 17, 35)), lc="#444", lw=0.7)
dshape("c", fr2dom("c", [(1186, 232), (1120, 226)]), lc="#444", lw=0.7, closed=False)
dshape("c", fr2dom("c", [(1186, 240), (1142, 270)]), lc="#444", lw=0.7, closed=False)
dshape("c", fr2dom("c", [(937, 445), (968, 447)]), lc="#444", lw=0.7, closed=False)
dshape("c", fr2dom("c", [(970, 395), (992, 438)]), lc="#444", lw=0.7, closed=False)
dshape("c", fr2dom("c", [(400, 895), (440, 820)]), lc="#444", lw=0.7, closed=False)
dshape("c", fr2dom("c", [(400, 905), (478, 940)]), lc="#444", lw=0.7, closed=False)
dshape("c", fr2dom("c", [(958, 742), (1272, 742), (1272, 908), (958, 908)]), fill="rgba(0,0,0,0)", lc="#555",
       lw=1)

raw_pts("c", C_TONGA_THNB, C_TONGA_CENB, "square-open", "#9a9a9a", 9, lc="#9a9a9a", lw=1)
raw_pts("c", C_PV_THNB, C_PV_CENB, "triangle-up-open", "#8a8a8a", 13, lc="#8a8a8a", lw=1)
raw_pts("c", C_LAU_THNB, C_LAU_CENB, "square", "#1a1a1a", 9)
raw_pts("c", C_MT_THNB, C_MT_CENB, "star", "#1a1a1a", 10)
pts("c", "PALL", C_PALL_THNB, C_PALL_CENB)
pts("c", "PALU", C_PALU_THNB, C_PALU_CENB)
pts("c", "JS", C_JS_THNB, C_JS_CENB)
pts("c", "J10", C_J10_THNB, C_J10_CENB)
pts("c", "SACHIN", C_SACHIN_THNB, C_SACHIN_CENB)
pts("c", "GHOSH", C_GHOSH_THNB, C_GHOSH_CENB)
pts("c", "AMPH", C_AMPH_THNB, C_AMPH_CENB)
pts("c", "AGG", C_AGG_THNB, C_AGG_CENB)
dlabel("c", C_AMPH_THNB[0], C_AMPH_CENB[0], "AN1704a", logx=True, logy=True, xanchor="left", xshift=6,
       yshift=-3, size=12)
ztext("c", 215, 205, "(c)", size=25)
ztext("c", 332, 510, "N-type<br>MORB", size=12)
ztext("c", 340, 905, "E-type<br>MORB", size=12)
ztext("c", 566, 785, "Ocean Island<br>Basalts", size=10, angle=-50)
ztext("c", 728, 492, "Back-arc Basalts", size=12, angle=52, bg="#a9b489")
ztext("c", 228, 805, "Ocean<br>Ridge<br>Basalts", size=13, angle=50, bg="#e8c9a3")
ztext("c", 1420, 140, "Island arc Basalts<br>and<br>Andesites", size=12, angle=50, bg="#e6a9c3")
ztext("c", 1240, 237, "Mariana<br>Arc", size=11)
ztext("c", 1005, 465, "Tonga<br>Arc", size=11)
ztext("c", 655, 222, "Ce/Th = 100", size=12, angle=-47)
ztext("c", 912, 640, "Ce/Th = 10", size=12, angle=-47)
ztext("c", 985, 770, "\u25a0", size=14, color="#1a1a1a")
ztext("c", 985, 826, "\u2605", size=13, color="#1a1a1a")
ztext("c", 985, 880, "\u25b3", size=15, color="#8a8a8a")
for zy, t in [(770, "Lau Basin"), (826, "Mariana Trough"), (882, "Parece Vela Basin")]:
    ztext("c", 1018, zy, t, size=12, xanchor="left")
ptext(1120, 375, "Th/Nb", size=14)
ptext(863, 197, "Ce/Nb", size=14, angle=-90)

# ============================ PANEL (d) ============================
set_axes("d", dict(range=[0, 80], tickvals=[0, 20, 40, 60, 80], tickfont=dict(size=14, color=INK, family=FONT)),
         dict(range=[0, 8], dtick=1, tickfont=dict(size=14, color=INK, family=FONT),
              minor=dict(ticks="outside", ticklen=3, dtick=0.5, tickcolor="#3a3a3a")))
dshape("d", UNIT, fill=PANEL_BG)


def d_dom(poly):
    return [(x / 80.0, y / 8.0) for x, y in poly]


IAT_D = [(8.9, 8.2), (8.95, 7.81), (9.2, 7.03), (10.25, 6.26), (12.0, 5.57), (15.0, 5.13), (19.4, 4.88),
         (22.8, 4.79), (29.8, 4.83), (35.9, 4.96), (39.3, 5.18), (41.3, 5.65), (42.5, 6.34), (43.0, 7.21),
         (43.2, 7.9), (43.2, 8.2)]
BABB_D = [(21.1, 5.13), (24.6, 5.22), (36.7, 5.22), (39.8, 5.0), (40.0, 4.70), (38.9, 4.27), (36.7, 3.50),
          (36.3, 2.80), (38.0, 2.29), (39.8, 1.94), (40.6, 1.42), (40.6, 0.99), (39.3, 0.91), (23.3, 0.92),
          (20.2, 1.04), (18.5, 1.34), (17.5, 2.29), (18.5, 2.72), (19.4, 3.15), (19.8, 3.67), (20.2, 4.19),
          (20.7, 4.88)]
FAPB_D = [(4.6, 4.06), (7.6, 4.49), (10.7, 4.55), (13.7, 4.49), (14.3, 3.84), (14.6, 2.72), (14.2, 1.60),
          (11.6, 1.42), (8.1, 1.47), (5.5, 1.77), (4.6, 2.29), (4.2, 3.15)]
NMORB_D = [(28.9, 0.73), (32.4, 1.04), (38.5, 1.29), (42.8, 1.38), (49.8, 1.34), (58.5, 1.21), (67.1, 1.08),
           (71.5, 0.91), (70.8, 0.73), (65.4, 0.52), (54.1, 0.43), (41.1, 0.30), (33.3, 0.20), (30.7, 0.30),
           (29.4, 0.52)]
OFB_D = [(22.4, 0.65), (23.7, 0.99), (27.2, 1.17), (30.7, 1.42), (32.8, 1.51), (33.3, 1.17), (32.8, 0.73),
         (30.7, 0.43), (28.1, 0.39), (24.6, 0.39), (22.9, 0.47)]
TE_D = [(12.9, 0.39), (15.9, 0.73), (22.0, 0.99), (29.8, 1.21), (35.9, 1.29), (38.0, 1.17), (36.8, 0.82),
        (33.3, 0.56), (28.1, 0.35), (22.0, 0.22), (15.9, 0.20), (13.3, 0.26)]
grad_fill("d", d_dom(IAT_D), (0, 1), [(0, (221, 166, 191)), (0.62, (222, 170, 194)), (1, (250, 244, 247))], n=16)
dshape("d", d_dom(IAT_D[1:-1]), lc="#333", lw=0.8, closed=False)
dshape("d", d_dom(BABB_D), fill="rgb(212,229,200)", lc="#333", lw=0.8)
dshape("d", d_dom(IAT_D[5:12]), lc="#333", lw=0.8, closed=False)
dshape("d", d_dom(FAPB_D), fill="rgb(223,224,128)", lc="#444", lw=1, dash="dot")
dshape("d", d_dom(TE_D), fill="rgb(230,230,244)", lc="#555", lw=1, dash="dot")
dshape("d", d_dom(NMORB_D), fill="rgb(236,211,176)", lc="#333", lw=0.8)
dshape("d", d_dom(OFB_D), fill="rgba(160,196,236,0.92)", lc="#333", lw=0.8, dash="dash")

pts("d", "PALL", D_PALL_Y, D_PALL_LANB)
pts("d", "PALU", D_PALU_Y, D_PALU_LANB)
pts("d", "SACHIN", D_SACHIN_Y, D_SACHIN_LANB)
pts("d", "J10", D_J10_Y, D_J10_LANB)
pts("d", "JS", D_JS_Y, D_JS_LANB)
pts("d", "AGG", D_AGG_Y, D_AGG_LANB)
pts("d", "GHOSH", D_GHOSH_Y, D_GHOSH_LANB)
pts("d", "AMPH", D_AMPH_Y, D_AMPH_LANB)
dlabel("d", 26.0, 6.3, "IAT", size=13)
dlabel("d", 27.6, 4.4, "BABB", size=13)
dlabel("d", 7.6, 3.0, "FAPB", size=13)
dlabel("d", 51.5, 0.75, "N-MORB", size=13)
dlabel("d", 72.3, 7.34, "(d)", size=25)
dlabel("d", 19.1, 5.32, "AN1704a", size=12)
anns.append(dict(xref="x4", yref="y4", axref="x4", ayref="y4", x=29.3, y=1.5, ax=26.3, ay=1.86, text="OFB",
                 showarrow=True, arrowhead=2, arrowsize=1, arrowwidth=1, arrowcolor="#222",
                 font=dict(size=13, color=INK, family=FONT)))
anns.append(dict(xref="x4", yref="y4", axref="x4", ayref="y4", x=13.6, y=0.5, ax=9.6, ay=0.95, text="T+E-MORB",
                 showarrow=True, arrowhead=2, arrowsize=1, arrowwidth=1, arrowcolor="#222",
                 font=dict(size=13, color=INK, family=FONT)))
ptext(667, 781, "Y (ppm)", size=14)
ptext(480, 592, "La/Nb", size=14, angle=-90)

# ============================ PANEL (e) ============================
set_axes("e", dict(type="log", range=[-2, 2], tickvals=[0.01, 0.1, 1, 10, 100],
                   ticktext=["0.01", "0.1", "1", "10", "100"],
                   minor=dict(ticks="outside", ticklen=3, tickcolor="#3a3a3a", tickvals=minor_log(-2, 2))),
         dict(type="log", range=[-2, 3], tickvals=[0.01, 0.1, 1, 10, 100, 1000],
              ticktext=["0.01", "0.1", "1", "10", "100", "1000"],
              minor=dict(ticks="outside", ticklen=3, tickcolor="#3a3a3a", tickvals=minor_log(-2, 3))))
dshape("e", UNIT, fill=PANEL_BG)
va = fat_arrow((232, 545), (702, 82), 26, 56, 75)
grad_fill("e", fr2dom("e", va), (470, 463), [(0, (220, 162, 190)), (1, (196, 168, 155))], n=16)
dshape("e", fr2dom("e", va), lc="#555", lw=0.6)
mo = fat_arrow((678, 853), (1088, 447), 18, 42, 65)
grad_fill("e", fr2dom("e", mo), (410, 406), [(0, (233, 196, 158)), (0.5, (238, 236, 240)), (1, (160, 196, 236))],
          n=16)
dshape("e", fr2dom("e", mo), lc="#555", lw=0.6)
E_FIELDS = [
    ([(362, 640), (368, 590), (395, 530), (440, 480), (500, 445), (560, 420), (600, 412), (630, 420), (640, 445),
      (620, 490), (590, 540), (565, 580), (545, 620), (530, 655), (490, 668), (430, 668), (385, 662)],
     "rgb(219,163,189)"),
    ([(530, 330), (540, 265), (565, 222), (610, 195), (680, 182), (760, 176), (850, 180), (885, 195), (895, 235),
      (880, 280), (850, 330), (800, 380), (760, 415), (720, 430), (660, 428), (600, 410), (555, 385), (535, 360)],
     "rgb(200,173,158)"),
    ([(555, 700), (565, 640), (600, 600), (660, 565), (720, 540), (775, 525), (790, 545), (770, 590), (730, 640),
      (690, 685), (640, 712), (590, 722), (560, 715)], "rgb(236,207,172)"),
    ([(322, 740), (340, 715), (400, 700), (470, 680), (548, 652), (552, 680), (535, 720), (500, 760), (450, 800),
      (400, 830), (370, 848), (345, 835), (330, 800), (322, 770)], "rgb(222,224,124)"),
    ([(785, 462), (830, 440), (880, 415), (930, 395), (945, 415), (935, 440), (890, 460), (840, 485), (800, 500),
      (785, 490)], "rgb(228,226,242)"),
    ([(782, 410), (810, 385), (850, 340), (895, 288), (950, 332), (948, 380), (940, 405), (900, 420), (860, 445),
      (810, 455), (790, 440)], "rgb(180,144,224)"),
    ([(895, 290), (960, 230), (1040, 150), (1090, 95), (1137, 45), (1137, 140), (1100, 190), (1060, 240),
      (1020, 300), (990, 360), (975, 420), (955, 425), (945, 405), (950, 332)], "rgb(168,200,234)"),
]
for poly, col in E_FIELDS:
    dshape("e", fr2dom("e", poly), fill=col, lc="#777", lw=0.8, dash="dot")
dshape("e", fr2dom("e", ellipse(650, 505, 160, 80, 22)), fill="rgba(196,222,186,0.6)", lc="#777", lw=0.8,
       dash="dot")
dshape("e", fr2dom("e", [(203, 785), (548, 632), (1137, 35)]), lc="#111", lw=2, closed=False)
dshape("e", fr2dom("e", [(203, 352), (745, 425)]), lc="#111", lw=1.5, closed=False)
dshape("e", fr2dom("e", [(548, 632), (598, 965)]), lc="#111", lw=1.5, closed=False)

raw_pts("e", E_REF_NBN, E_REF_THN, "cross-thin", "#444", 10, lc="#444", lw=1)
raw_pts("e", E_OPENSQ_NBN, E_OPENSQ_THN, "square-open", "#888", 9, lc="#888", lw=1)
pts("e", "PALL", E_PALL_NBN, E_PALL_THN)
pts("e", "PALU", E_PALU_NBN, E_PALU_THN)
pts("e", "JS", E_JS_NBN, E_JS_THN)
pts("e", "J10", E_J10_NBN, E_J10_THN)
pts("e", "SACHIN", E_SACHIN_NBN, E_SACHIN_THN)
pts("e", "GHOSH", E_GHOSH_NBN, E_GHOSH_THN)
pts("e", "AGG", E_AGG_NBN, E_AGG_THN)
pts("e", "AMPH", E_AMPH_NBN, E_AMPH_THN)
dlabel("e", E_AMPH_NBN[0], E_AMPH_THN[0], "AN1704a", logx=True, logy=True, xshift=20, yshift=11, size=12)
ztext("e", 280, 125, "(e)", size=25)
ztext("e", 780, 230, "CAB", size=12)
ztext("e", 1032, 210, "AB", size=12)
ztext("e", 862, 375, "P-MORB", size=10, angle=-40)
ztext("e", 892, 442, "E-MORB", size=10, angle=-55)
ztext("e", 418, 610, "IAT", size=12)
ztext("e", 472, 590, "Backarc A", size=10, angle=-90)
ztext("e", 612, 515, "BABB", size=10)
ztext("e", 795, 545, "Backarc B", size=10, angle=-90)
ztext("e", 625, 652, "N-MORB", size=10, angle=-40)
ztext("e", 438, 758, "MTB &<br>SSZ D-MORB", size=10, angle=-40)
ztext("e", 470, 318, "VOLCANIC ARC ARRAY", size=10, angle=-45)
ztext("e", 868, 672, "MORB-OIB ARRAY", size=10, angle=-45)
ztext("e", 268, 635, "increasing<br>subduction<br>component", size=9, angle=-90)
ztext("e", 268, 870, "no<br>subduction<br>component", size=9, angle=-90)
anns.append(dict(xref="paper", yref="paper", x=(900 + 330 / 3) / W, y=1 - (420 + 590 / 3) / H, ax=0, ay=12,
                 text="", showarrow=True, arrowhead=2, arrowsize=1, arrowwidth=1, arrowcolor="#222"))
ptext(1108, 777, "NbN", size=16)
ptext(920, 578, "ThN", size=16, angle=-90)

# ============================ SPIDER PANELS ============================
SP = {
    "f": dict(cats=CAT_NMORB, xr=[-0.985, 19.36], yr=[-1, 2], two=True, rows=(1168, 1182),
              title="Rock / N-MORB", tx=17, dashed=True),
    "g": dict(cats=CAT_REE, xr=[-1.006, 13.88], yr=[0, 3], two=True, rows=(1168.3, 1182.3),
              title="Rock / Chondrite", tx=482, dashed=False),
    "h": dict(cats=CAT_NMORB, xr=[-0.985, 19.36], yr=[-1, 2], two=True, rows=(1483.3, 1496.7),
              title="Rock / N-MORB", tx=17, dashed=True),
    "i": dict(cats=CAT_REE, xr=[-1.006, 13.88], yr=[0, 3], two=True, rows=(1483.3, 1496.7),
              title="Rock / Chondrite", tx=482, dashed=False),
    "j": dict(cats=CAT_EXT, xr=[-0.95, 17.0], yr=[-1, 2], two=False, rows=(1293.3, 1293.3),
              title="Rock / N-MORB", tx=970, dashed=True),
}
for p, cfg in SP.items():
    lo, hi = cfg["yr"]
    tv = [10 ** e for e in range(lo, hi + 1)]
    tt = [".1" if v == 0.1 else str(int(v)) for v in tv]
    set_axes(p, dict(type="category", categoryorder="array", categoryarray=cfg["cats"], range=cfg["xr"],
                     showticklabels=False, ticklen=6, mirror=("ticks" if p in ("g", "i") else True)),
             dict(type="log", range=[lo, hi], tickvals=tv, ticktext=tt, ticklen=6, mirror="ticks",
                  minor=dict(ticks="outside", ticklen=3, tickcolor="#3a3a3a", tickvals=minor_log(lo, hi))))
    dshape(p, UNIT, fill=PANEL_BG)
    if cfg["dashed"]:
        v1 = (0 - lo) / (hi - lo)
        dshape(p, [(0, v1), (1, v1)], lc="#9a9a9a", lw=1, dash="dash", closed=False)
    L, T, R, B = BOX[p]
    for i, c in enumerate(cfg["cats"]):
        ypix = cfg["rows"][1] if (cfg["two"] and i % 2 == 0) else cfg["rows"][0]
        anns.append(dict(xref=AXID[p][0], yref="paper", x=i, y=1 - ypix / H, text=c, showarrow=False,
                         yanchor="middle", font=dict(size=12, color=INK, family=FONT)))
    ptext(cfg["tx"], (T + B) / 2, cfg["title"], size=15, angle=-90)


def spider(p, lines, color, width=1.0):
    xid, yid = AXID[p]
    cats = SP[p]["cats"]
    for ln in lines:
        fig.add_trace(go.Scatter(x=cats, y=ln, mode="lines", xaxis=xid, yaxis=yid, showlegend=False,
                                 hoverinfo="skip", line=dict(color=color, width=width)))


spider("f", F_CYAN, C_CYAN)
spider("f", F_ORANGE, C_ORANGE, 1.0)
spider("f", F_GREEN, C_GREEN, 1.1)
spider("g", G_CYAN, C_CYAN)
spider("g", G_ORANGE, C_ORANGE, 1.0)
spider("g", G_GREEN, C_GREEN, 1.1)
spider("h", H_OLIVE, C_OLIVE, 1.1)
spider("h", H_PINK, C_PINK, 1.0)
spider("h", H_CYAN, C_CYAN, 1.1)
spider("i", I_OLIVE, C_OLIVE, 1.1)
spider("i", I_PINK, C_PINK, 1.0)
spider("i", I_CYAN, C_CYAN, 1.1)
spider("j", J_CYAN, C_CYAN)
spider("j", J_ORANGE, C_ORANGE, 1.0)
spider("j", J_GREEN, C_GREEN, 1.1)


def mini_legend(x0, x1, tx, rows, labels, colors, widths):
    for y, lab, col, w in zip(rows, labels, colors, widths):
        shapes.append(dict(type="line", xref="paper", yref="paper", x0=x0 / W, x1=x1 / W, y0=1 - y / H,
                           y1=1 - y / H, line=dict(color=col, width=w), layer="above"))
        ptext(tx, y, lab, size=11.5, xanchor="left")


FJ_COL, FJ_W = [C_GREEN, C_ORANGE, C_CYAN], [1.2, 2.2, 1.2]
HI_COL, HI_W = [C_OLIVE, C_PINK, C_CYAN], [1.6, 1.6, 1.2]
mini_legend(132.7, 168.3, 175, (931.7, 949.0, 966.7), LEG_FJ, FJ_COL, FJ_W)
mini_legend(597.3, 634.0, 640.7, (930.0, 949.0, 966.7), LEG_FJ, FJ_COL, FJ_W)
mini_legend(132.7, 168.3, 175, (1246.7, 1263.3, 1281.7), LEG_HI, HI_COL, HI_W)
mini_legend(597.3, 634.0, 640.7, (1246.0, 1263.3, 1281.7), LEG_HI, HI_COL, HI_W)
mini_legend(1086.7, 1124.0, 1130, (1053.3, 1071.7, 1089.3), LEG_FJ, FJ_COL, FJ_W)
ptext(90, 936.7, "(f)", size=25)
ptext(558, 935, "(g)", size=25)
ptext(88, 1251.7, "(h)", size=25)
ptext(555, 1250, "(i)", size=25)
ptext(1331, 1255, "(j)", size=25)
anns.append(dict(xref="paper", yref="paper", x=148.3 / W, y=1 - 1333.3 / H, ax=12, ay=-18, text="AN1704a",
                 showarrow=True, arrowhead=0, arrowwidth=0.8, arrowcolor="#333",
                 font=dict(size=11.5, color=INK, family=FONT)))
anns.append(dict(xref="paper", yref="paper", x=557.3 / W, y=1 - 1322.7 / H, ax=24, ay=-12, text="AN1704a",
                 showarrow=True, arrowhead=0, arrowwidth=0.8, arrowcolor="#333",
                 font=dict(size=11.5, color=INK, family=FONT)))

# ============================ LEGEND ============================
for key, name in zip(LEG_KEYS, LEGEND_NAMES):
    sym, col = SYM[key]
    fig.add_trace(go.Scatter(x=[None], y=[None], mode="markers", name=name, legendgroup=key, xaxis="x",
                             yaxis="y", hoverinfo="skip",
                             marker=dict(symbol=sym, color=col, size=16, line=dict(color="#777", width=0.6))))

fig.update_layout(
    width=W, height=H, margin=dict(l=0, r=0, t=0, b=0, pad=0, autoexpand=False), paper_bgcolor="white",
    plot_bgcolor="rgba(0,0,0,0)",
    font=dict(family=FONT, color=INK), showlegend=True, shapes=shapes, annotations=anns,
    legend=dict(x=62 / W, y=1 - 495 / H, xanchor="left", yanchor="top", bgcolor="white", bordercolor="#9a9a9a",
                borderwidth=1, font=dict(size=13.3, family=FONT, color=INK), traceorder="grouped",
                tracegroupgap=2.6, itemsizing="trace", itemclick=False, itemdoubleclick=False),
    **layout_axes,
)
fig.write_html("out.html", post_script="document.body.style.margin='0';document.body.style.padding='0';")
